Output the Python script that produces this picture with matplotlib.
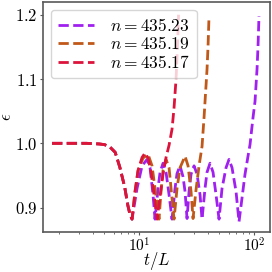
import matplotlib
matplotlib.use('Agg')
import matplotlib.pyplot as plt

plt.rcParams['font.family'] = 'serif'
plt.rcParams['font.serif'] = ['cmr10']
plt.rcParams['mathtext.fontset'] = 'cm'
plt.rcParams['axes.formatter.use_mathtext'] = True

# shared start (all three runs coincide until the first dip)
t_start = [1.75, 2.5, 3.5, 4.5, 5.0, 5.6, 6.2, 6.8, 7.5, 8.0, 8.35, 8.69]
eps_start = [1.0, 1.0, 1.0, 0.999, 0.998, 0.994, 0.986, 0.963, 0.932, 0.903, 0.889, 0.882]

# n = 435.17
t_red = [9.23, 9.80, 10.62, 11.28, 11.97, 12.72, 13.5, 14.34, 15.23, 16.17,
         17.17, 18.24, 19.36, 20.15, 20.98, 21.40, 21.84, 22.06]
eps_red = [0.925, 0.958, 0.978, 0.985, 0.977, 0.955, 0.92, 0.882, 0.918, 0.952,
           0.978, 0.997, 1.022, 1.055, 1.10, 1.135, 1.175, 1.2]

# n = 435.19
t_orange = [9.23, 9.80, 10.83, 11.97, 12.97, 13.77, 14.34, 14.92, 15.53, 16.17,
            17.17, 18.24, 18.98, 20.15, 21.40, 22.72, 25.12, 26.68, 28.33, 29.49,
            31.32, 33.25, 35.30, 36.75, 37.49, 39.02, 39.8, 40.62]
eps_orange = [0.925, 0.957, 0.977, 0.983, 0.965, 0.93, 0.905, 0.882, 0.925, 0.958,
              0.975, 0.962, 0.93, 0.882, 0.93, 0.962, 0.98, 0.965, 0.925, 0.883,
              0.928, 0.965, 0.995, 1.04, 1.065, 1.115, 1.15, 1.198]

# n = 435.23
t_purple = [9.61, 10.62, 11.74, 12.46, 13.23, 13.77, 14.63, 15.23, 16.17, 17.17,
            18.24, 19.36, 20.56, 21.40, 22.72, 24.13, 25.12, 26.15, 27.22, 28.33,
            30.09, 31.94, 33.92, 35.30, 37.49, 39.02, 41.43, 44.01, 46.73, 49.64,
            52.71, 57.10, 60.63, 64.39, 69.75, 74.06, 78.65, 83.52, 88.67, 92.30,
            98.0, 102.0, 106.2, 108.3, 110.5]
eps_purple = [0.93, 0.965, 0.975, 0.962, 0.92, 0.882, 0.93, 0.955, 0.969, 0.955,
              0.92, 0.882, 0.93, 0.953, 0.965, 0.948, 0.925, 0.883, 0.925, 0.952,
              0.965, 0.952, 0.92, 0.882, 0.93, 0.955, 0.969, 0.955, 0.92, 0.882,
              0.93, 0.962, 0.975, 0.962, 0.925, 0.878, 0.915, 0.952, 0.98, 0.998,
              1.04, 1.065, 1.115, 1.15, 1.198]

labels = [r'$n = 435.23$', r'$n = 435.19$', r'$n = 435.17$']
colors = ['#a020f0', '#c0581a', '#dc143c']

fig = plt.figure(figsize=(2.72, 2.72), dpi=100)
ax = fig.add_axes([0.158, 0.147, 0.835, 0.846])

ax.plot(t_start + t_purple, eps_start + eps_purple, '--', color=colors[0], lw=2, label=labels[0])
ax.plot(t_start + t_orange, eps_start + eps_orange, '--', color=colors[1], lw=2, label=labels[1])
ax.plot(t_start + t_red, eps_start + eps_red, '--', color=colors[2], lw=2, label=labels[2])

ax.set_xscale('log')
ax.set_xlim(1.46, 138)
ax.set_ylim(0.862, 1.22)
ax.set_yticks([0.9, 1.0, 1.1, 1.2])
ax.set_xlabel(r'$t/L$', fontsize=12)
ax.xaxis.set_label_coords(0.5, -0.078)
ax.set_ylabel(r'$\epsilon$', fontsize=12)
ax.yaxis.set_label_coords(-0.125, 0.5)
ax.tick_params(which='major', length=2.5, labelsize=12, pad=1.5)
ax.tick_params(axis='x', which='major', labelsize=11, pad=0.5)
ax.tick_params(which='minor', length=1.5)
for s in ax.spines.values():
    s.set_color('0.35')
    s.set_linewidth(1.2)
ax.tick_params(which='both', colors='0.35', labelcolor='black')

ax.legend(loc='upper left', fontsize=12.5, handlelength=2.1, borderaxespad=0.45,
          labelspacing=0.1, handletextpad=0.9, framealpha=0.8)

fig.savefig('out.png')
